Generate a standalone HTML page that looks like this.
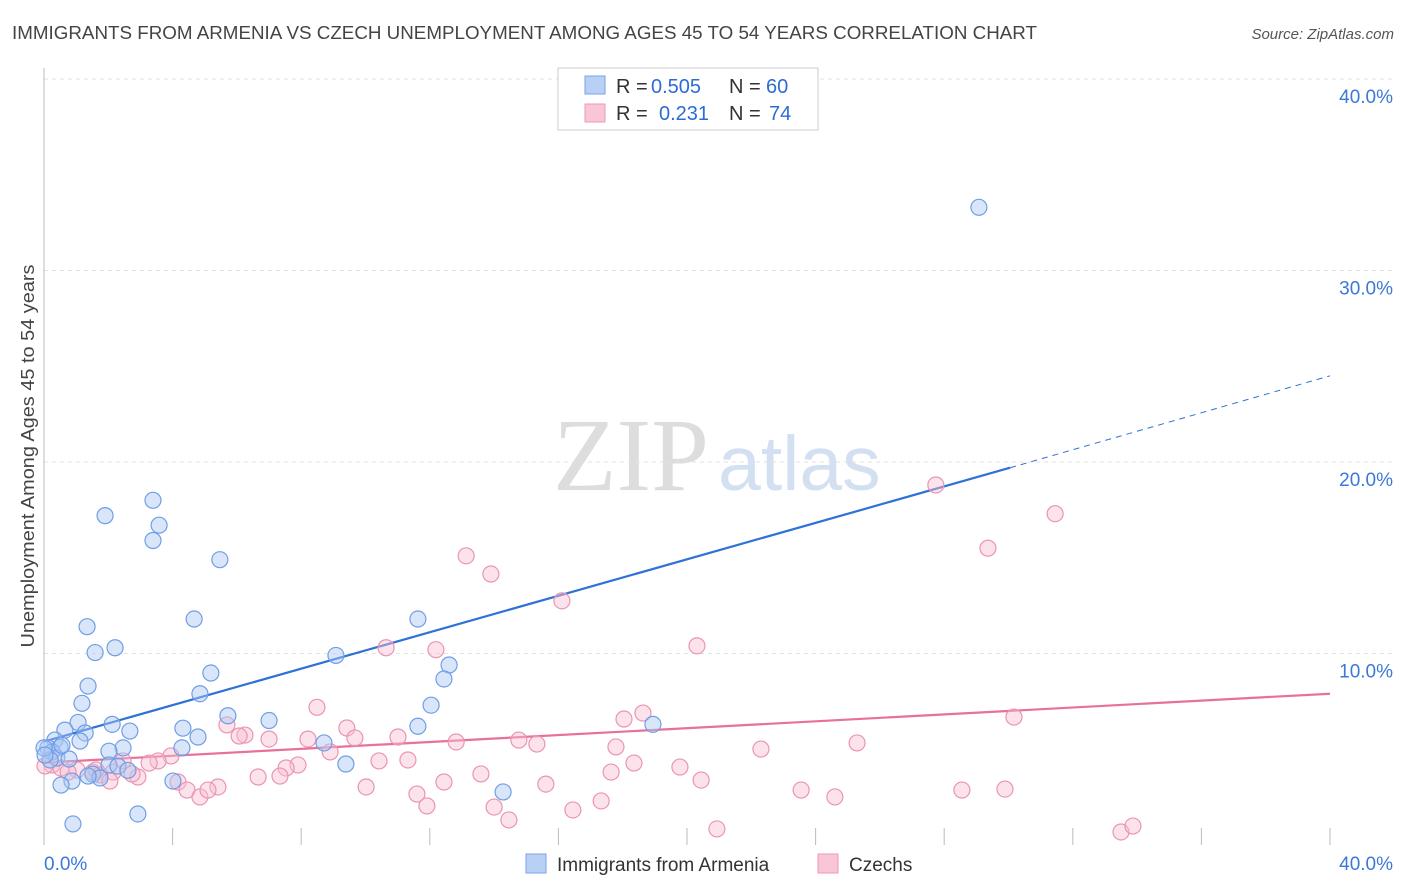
<!DOCTYPE html>
<html><head><meta charset="utf-8">
<style>
body{margin:0;background:#fff;font-family:"Liberation Sans",sans-serif;}
svg{display:block}
</style></head>
<body>
<svg id="chart" width="1406" height="892" viewBox="0 0 1406 892">
<text x="12" y="39" font-size="18" fill="#444" textLength="1025" lengthAdjust="spacingAndGlyphs">IMMIGRANTS FROM ARMENIA VS CZECH UNEMPLOYMENT AMONG AGES 45 TO 54 YEARS CORRELATION CHART</text>
<text x="1394" y="39" font-size="15" fill="#555" font-style="italic" text-anchor="end">Source: ZipAtlas.com</text>
<text x="553" y="490" font-size="104" fill="#ddd" font-family="Liberation Serif,serif">ZIP</text>
<text x="718" y="490" font-size="77" fill="#d3e0f2">atlas</text>
<text transform="translate(34,456) rotate(-90)" font-size="18" fill="#444" text-anchor="middle" textLength="383" lengthAdjust="spacingAndGlyphs">Unemployment Among Ages 45 to 54 years</text>
<g id="grid"></g><g id="axes"></g><g id="lines"></g><g id="pts"></g>
<g>
<rect x="558" y="68" width="260" height="62" fill="#fff" stroke="#ccc"/>
<rect x="585" y="76" width="20" height="18" fill="#b9d0f5" stroke="#7aa3e5"/>
<text x="616" y="93" font-size="20" fill="#333">R =</text>
<text x="651" y="93" font-size="20" fill="#2d6bd6">0.505</text>
<text x="729" y="93" font-size="20" fill="#333">N =</text>
<text x="766" y="93" font-size="20" fill="#2d6bd6">60</text>
<rect x="585" y="104" width="20" height="18" fill="#f8c6d6" stroke="#ec9ab4"/>
<text x="616" y="120" font-size="20" fill="#333">R =</text>
<text x="659" y="120" font-size="20" fill="#2d6bd6">0.231</text>
<text x="729" y="120" font-size="20" fill="#333">N =</text>
<text x="769" y="120" font-size="20" fill="#2d6bd6">74</text>
</g>
<g>
<rect x="526" y="854" width="20" height="19" fill="#b9d0f5" stroke="#7aa3e5"/>
<text x="557" y="871" font-size="19" fill="#333">Immigrants from Armenia</text>
<rect x="818" y="854" width="20" height="19" fill="#f8c6d6" stroke="#ec9ab4"/>
<text x="849" y="871" font-size="19" fill="#333">Czechs</text>
</g>
</svg>
<script>
const blueX=[29.08,3.39,3.58,1.90,3.39,5.47,1.34,4.67,11.63,2.21,1.59,9.08,12.6,5.19,12.44,1.37,4.85,1.18,12.04,5.72,7.0,2.12,4.32,18.94,11.63,1.06,0.65,2.67,1.28,4.79,0.34,1.12,8.71,4.29,2.46,2.02,0.12,0.5,0.25,0.4,0.78,9.39,2.02,2.3,1.52,2.61,1.74,1.37,4.01,0.87,0.53,14.28,2.92,0.9,0.19,0.56,0,0.03];
const blueY=[33.3,18.0,16.7,17.2,15.9,14.9,11.4,11.8,11.8,10.3,10.05,9.9,9.4,8.98,8.67,8.3,7.9,7.4,7.3,6.75,6.5,6.3,6.1,6.3,6.2,6.4,6.0,5.95,5.85,5.64,5.48,5.43,5.33,5.07,5.07,4.9,5.07,5.1,4.86,4.54,4.49,4.23,4.18,4.12,3.7,3.9,3.5,3.6,3.34,3.34,3.13,2.77,1.62,1.1,4.44,5.2,5.07,4.7];
const pinkX=[27.74,31.45,29.36,13.13,13.9,16.11,20.31,10.64,12.19,8.49,18.63,30.17,18.04,9.42,5.69,6.25,7.0,6.07,8.21,9.67,11.01,12.82,14.77,15.33,25.29,17.79,8.9,22.3,3.95,3.55,2.46,3.27,0.25,0.53,18.35,7.9,7.53,10.42,11.32,0.03,1.03,1.52,2.15,2.92,2.74,1.74,2.05,6.66,7.34,13.59,17.64,19.78,20.44,4.17,4.45,4.85,5.41,5.1,10.02,12.44,15.61,11.6,11.91,14.0,14.46,16.45,17.33,23.55,24.6,28.55,29.89,20.93,33.5,33.87,1.62,0.75];
const pinkY=[18.8,17.3,15.5,15.1,14.15,12.75,10.4,10.3,10.2,7.19,6.89,6.68,6.58,6.11,6.27,5.74,5.53,5.69,5.53,5.59,5.64,5.38,5.48,5.27,5.33,5.12,4.86,5.01,4.65,4.39,4.39,4.28,4.18,4.02,4.28,4.18,4.02,4.39,4.44,4.13,3.92,3.81,3.81,3.55,3.71,3.66,3.34,3.55,3.6,3.71,3.81,4.07,3.39,3.29,2.87,2.51,3.03,2.87,3.03,3.29,3.18,2.66,2.04,1.98,1.31,1.83,2.3,2.87,2.51,2.87,2.92,0.84,0.68,0.99,3.92,3.81];
const blueTrend=[[0,5.4],[30.05,19.7],[40,24.5]];
const pinkTrend=[[0,4.3],[40,7.9]];
const yTicks=[10,20,30,40];
const xTicks=[0,4,8,12,16,20,24,28,32,36,40];
const X=v=>44+v*(1286/40), Y=v=>845-v*(766/40);
const NS="http://www.w3.org/2000/svg";
function mk(p,t,a){const e=document.createElementNS(NS,t);for(const k in a)e.setAttribute(k,a[k]);p.appendChild(e);return e;}
const grid=document.getElementById('grid'),axes=document.getElementById('axes'),lines=document.getElementById('lines'),pts=document.getElementById('pts');
yTicks.forEach(v=>{
 const l=mk(grid,'line',{x1:44,x2:1393,y1:Y(v),y2:Y(v),stroke:'#e2e2e2','stroke-dasharray':'4,4'});
 
 
 const t=mk(grid,'text',{x:1393,y:Y(v)+24,'font-size':19,fill:'#3b78d8','text-anchor':'end'});
 t.textContent=v.toFixed(1)+'%';
 
 
});
const ya=mk(axes,'line',{x1:44,x2:44,y1:68,y2:845,stroke:'#bbb'});


xTicks.forEach(v=>{
 const l=mk(axes,'line',{x1:X(v),x2:X(v),y1:828,y2:845,stroke:'#bbb'});
 
 
});
[[0,'start',44],[40,'end',1393]].forEach(([v,a,x])=>{
 const t=mk(axes,'text',{x:x,y:870,'font-size':19,fill:'#3b78d8','text-anchor':a});
 t.textContent=v.toFixed(1)+'%';
 
 
});
function drawPts(xs,ys,fill,stroke,name){
 xs.forEach((x,i)=>{
  const c=mk(pts,'circle',{cx:X(x),cy:Y(ys[i]),r:8,fill:fill,stroke:stroke,'stroke-width':1.2});
  
  
 });
}
drawPts(pinkX,pinkY,'rgba(248,190,210,0.45)','#eb94b2','czechs-point');
drawPts(blueX,blueY,'rgba(170,200,245,0.45)','#6f9ee6','armenia-point');
const b1=mk(lines,'line',{x1:X(blueTrend[0][0]),y1:Y(blueTrend[0][1]),x2:X(blueTrend[1][0]),y2:Y(blueTrend[1][1]),stroke:'#2f72d6','stroke-width':2.2});


const b2=mk(lines,'line',{x1:X(blueTrend[1][0]),y1:Y(blueTrend[1][1]),x2:X(blueTrend[2][0]),y2:Y(blueTrend[2][1]),stroke:'#2f72d6','stroke-width':1,'stroke-dasharray':'6,5'});


const p1=mk(lines,'line',{x1:X(pinkTrend[0][0]),y1:Y(pinkTrend[0][1]),x2:X(pinkTrend[1][0]),y2:Y(pinkTrend[1][1]),stroke:'#e8709a','stroke-width':2.2});


</script>
</body></html>
